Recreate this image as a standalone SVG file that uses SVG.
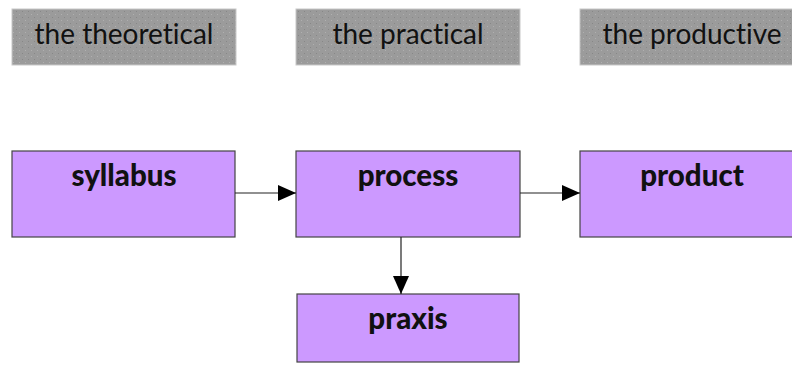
<svg xmlns="http://www.w3.org/2000/svg" width="792" height="365" viewBox="0 0 792 365">
<defs>
<pattern id="dots" width="6" height="6" patternUnits="userSpaceOnUse">
<rect width="6" height="6" fill="#9b9b9b"/>
<rect x="1" y="2" width="1" height="1" fill="#b0b0b0"/>
<rect x="4" y="5" width="1" height="1" fill="#878787"/>
</pattern>
<marker id="arr" markerWidth="18" markerHeight="16" refX="18" refY="8" orient="auto" markerUnits="userSpaceOnUse">
<path d="M0,0 L18,8 L0,16 Z" fill="#000"/>
</marker>
</defs>
<style>
.hdr{fill:url(#dots);stroke:#c8c8c8;stroke-width:1}
.hdrt{font-family:Lato,"Open Sans",sans-serif;font-size:28px;fill:#111;text-anchor:middle;font-variant-ligatures:none}
.box{fill:#cc99ff;stroke:#444;stroke-width:1.2}
.boxt{font-family:Lato,"Open Sans",sans-serif;font-size:29.5px;font-weight:900;fill:#111;text-anchor:middle;font-variant-ligatures:none}
.con{stroke:#222;stroke-width:1.2;fill:none;marker-end:url(#arr)}
</style>
<rect width="792" height="365" fill="#fff"/>
<g id="theoretical"><rect class="hdr" x="12" y="9" width="224" height="56"/><text class="hdrt" x="124" y="44">the theoretical</text></g>
<g id="practical"><rect class="hdr" x="296" y="9" width="224" height="56"/><text class="hdrt" x="408" y="44">the practical</text></g>
<g id="productive"><rect class="hdr" x="580" y="9" width="230" height="56"/><text class="hdrt" x="692" y="44">the productive</text></g>
<g id="syllabus"><rect class="box" x="12" y="151" width="223" height="86"/><text class="boxt" x="124" y="186">syllabus</text></g>
<g id="process"><rect class="box" x="296" y="151" width="224" height="86"/><text class="boxt" x="408" y="186">process</text></g>
<g id="product"><rect class="box" x="580" y="151" width="230" height="86"/><text class="boxt" x="692" y="186">product</text></g>
<g id="praxis"><rect class="box" x="297" y="294" width="222" height="68"/><text class="boxt" x="408" y="329">praxis</text></g>
<g id="connectors">
<line class="con" x1="235" y1="193" x2="296" y2="193"/>
<line class="con" x1="520" y1="193" x2="580" y2="193"/>
<line class="con" x1="401" y1="237" x2="401" y2="294"/>
</g>
</svg>
